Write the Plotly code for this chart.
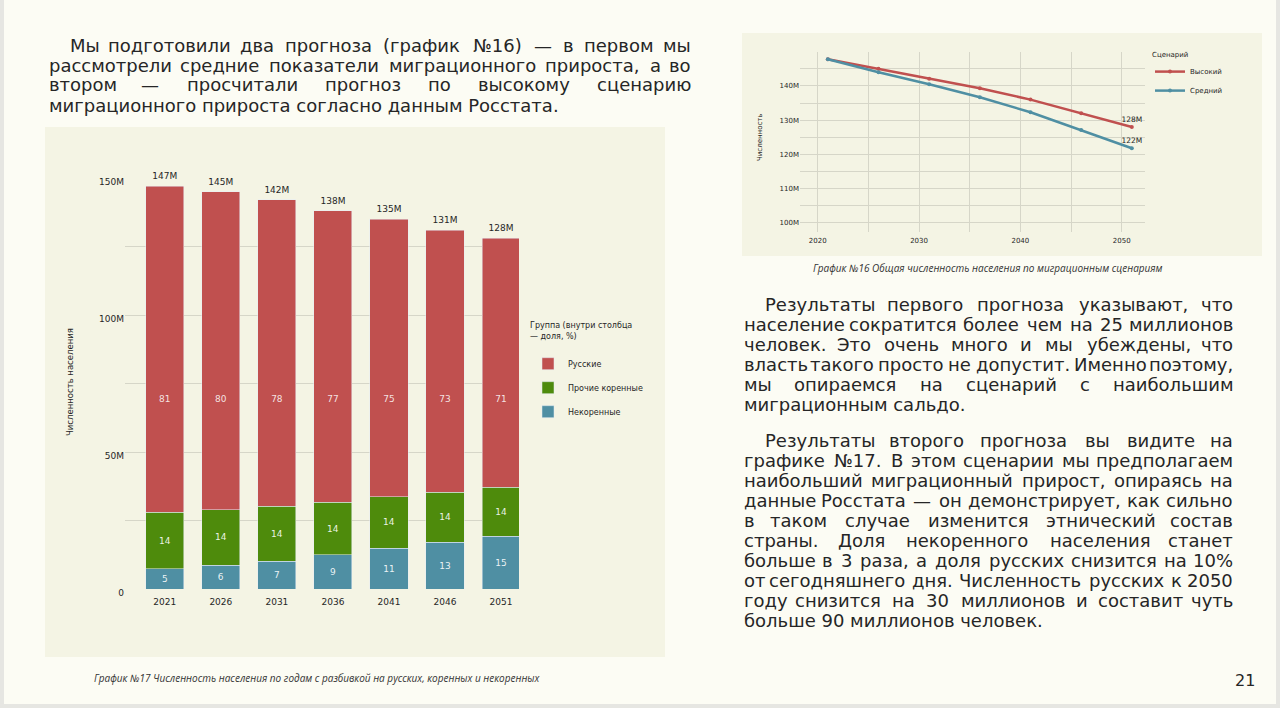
import plotly.graph_objects as go

W, H = 1280, 708

# --- data: chart 17 (bars) ---
years = ['2021', '2026', '2031', '2036', '2041', '2046', '2051']
totals = [147, 145, 142, 138, 135, 131, 128]
share_rus = [81, 80, 78, 77, 75, 73, 71]
share_kor = [14, 14, 14, 14, 14, 14, 14]
share_nekor = [5, 6, 7, 9, 11, 13, 15]

# --- data: chart 16 (lines) ---
scen_years = [2021, 2026, 2031, 2036, 2041, 2046, 2051]
scen_high = [147.8, 145.0, 142.1, 139.3, 136.0, 132.0, 128.0]
scen_mid = [147.8, 144.0, 140.5, 136.7, 132.3, 127.1, 121.8]

# --- page text ---
par1 = [
    "Мы подготовили два прогноза (график №16) — в первом мы",
    "рассмотрели средние показатели миграционного прироста, а во",
    "втором — просчитали прогноз по высокому сценарию",
    "миграционного прироста согласно данным Росстата.",
]
par2 = [
    "Результаты первого прогноза указывают, что",
    "население сократится более чем на 25 миллионов",
    "человек. Это очень много и мы убеждены, что",
    "власть такого просто не допустит. Именно поэтому,",
    "мы опираемся на сценарий с наибольшим",
    "миграционным сальдо.",
]
par3 = [
    "Результаты второго прогноза вы видите на",
    "графике №17. В этом сценарии мы предполагаем",
    "наибольший миграционный прирост, опираясь на",
    "данные Росстата — он демонстрирует, как сильно",
    "в таком случае изменится этнический состав",
    "страны. Доля некоренного населения станет",
    "больше в 3 раза, а доля русских снизится на 10%",
    "от сегодняшнего дня. Численность русских к 2050",
    "году снизится на 30 миллионов и составит чуть",
    "больше 90 миллионов человек.",
]

RED = '#c0504f'
GREEN = '#4e8b0c'
BLUE = '#4f8fa3'
PAGE_BG = '#fcfcf4'
PANEL_BG = '#f4f4e4'
GRID = '#d6d6c8'
TXT = '#262626'
BODY_FONT = 'DejaVu Sans'
BODY_SIZE = 18


def px(x):
    return x / W


def py(y):
    return 1 - y / H


def seg(total, shares, part):
    return [t * p / (a + b + c) for t, p, a, b, c in zip(total, part, *shares)]


shares = (share_rus, share_kor, share_nekor)
rus = seg(totals, shares, share_rus)
kor = seg(totals, shares, share_kor)
nekor = seg(totals, shares, share_nekor)

fig = go.Figure()

# stacked bars, bottom first
fig.add_trace(go.Bar(
    x=years, y=nekor, name='Некоренные', marker_color=BLUE, width=0.68,
    text=share_nekor, textposition='inside', insidetextanchor='middle',
    textangle=0, constraintext='none',
    textfont=dict(size=9, color='rgba(255,255,255,0.9)', family=BODY_FONT),
    legendgroup='nekor', legendrank=3, hoverinfo='skip'
))
fig.add_trace(go.Bar(
    x=years, y=kor, name='Прочие коренные', marker_color=GREEN, width=0.68,
    text=share_kor, textposition='inside', insidetextanchor='middle',
    textangle=0, constraintext='none',
    textfont=dict(size=9, color='rgba(255,255,255,0.9)', family=BODY_FONT),
    legendgroup='kor', legendrank=2, hoverinfo='skip'
))
fig.add_trace(go.Bar(
    x=years, y=rus, name='Русские', marker_color=RED, width=0.68,
    legendgroup='rus', legendrank=1, hoverinfo='skip'
))
# share labels of the red part sit on a common level
RUS_LABEL_LEVEL = 69
fig.add_trace(go.Scatter(
    x=years, y=[RUS_LABEL_LEVEL] * len(years), mode='text', text=share_rus,
    textfont=dict(size=9, color='rgba(255,255,255,0.85)', family=BODY_FONT),
    showlegend=False, hoverinfo='skip'
))
# totals above bars (invisible markers lift the labels a little)
fig.add_trace(go.Scatter(
    x=years, y=totals, mode='markers+text', text=[f'{t}M' for t in totals],
    textposition='top center', cliponaxis=False,
    marker=dict(size=6, color='rgba(0,0,0,0)'),
    textfont=dict(size=9, color=TXT, family=BODY_FONT),
    showlegend=False, hoverinfo='skip'
))

# scenario lines
for name, vals, color in [('Высокий', scen_high, RED), ('Средний', scen_mid, BLUE)]:
    labels = [''] * (len(vals) - 1) + [f'{round(vals[-1])}M']
    fig.add_trace(go.Scatter(
        x=scen_years, y=vals, name=name, mode='lines+markers+text',
        text=labels, textposition='top center', cliponaxis=False,
        textfont=dict(size=7.5, color=TXT, family=BODY_FONT),
        line=dict(color=color, width=2.5), marker=dict(color=color, size=4),
        xaxis='x2', yaxis='y2', legend='legend2'
    ))

# --- text helpers ---
CW = {
    ' ': .318, '.': .318, ',': .318, '(': .39, ')': .39, '—': 1.0, '№': 1.2, '%': .95,
    'а': .613, 'б': .617, 'в': .59, 'г': .48, 'д': .67, 'е': .615, 'ж': .9, 'з': .53,
    'и': .652, 'й': .652, 'к': .6, 'л': .652, 'м': .755, 'н': .652, 'о': .612,
    'п': .652, 'р': .635, 'с': .55, 'т': .51, 'у': .592, 'ф': .99, 'х': .592,
    'ц': .67, 'ч': .61, 'ш': .93, 'щ': .95, 'ъ': .72, 'ы': .83, 'ь': .6, 'э': .55,
    'ю': .88, 'я': .62,
    'М': .86, 'Р': .60, 'Э': .70, 'Д': .74, 'Ч': .70, 'И': .75, 'В': .69,
}


def tw(s, size):
    w = 0
    for ch in s:
        if ch in CW:
            w += CW[ch]
        elif ch.isdigit():
            w += .636
        elif ch.isupper():
            w += .74
        else:
            w += .6
    return w * size


annotations = []


def put(text, x, y, anchor='left', size=BODY_SIZE):
    annotations.append(dict(
        text=text, x=px(x), y=py(y), xref='paper', yref='paper',
        xanchor=anchor, yanchor='middle', showarrow=False,
        font=dict(family=BODY_FONT, size=size, color=TXT)
    ))


def paragraph(lines, x0, x1, y0, indent=21, step=20):
    for i, line in enumerate(lines):
        left = x0 + (indent if i == 0 else 0)
        y = y0 + i * step
        words = line.split(' ')
        if i == len(lines) - 1 or len(words) < 2:
            put(line, left, y)
            continue
        widths = [tw(w, BODY_SIZE) for w in words]
        gap = (x1 - left - sum(widths)) / (len(words) - 1)
        pos = left
        for j, w in enumerate(words):
            if j == 0:
                put(w, left, y, 'left')
            elif j == len(words) - 1:
                put(w, x1, y, 'right')
            else:
                put(w, pos + widths[j] / 2, y, 'center')
            pos += widths[j] + gap


paragraph(par1, 47, 693, 45)
paragraph(par2, 742, 1235, 304)
paragraph(par3, 742, 1235, 440)


def note(text, x, y, size, family=BODY_FONT, anchor='center', angle=0, color=TXT):
    annotations.append(dict(
        text=text, x=px(x), y=py(y), xref='paper', yref='paper',
        xanchor=anchor, yanchor='middle', textangle=angle, showarrow=False,
        font=dict(family=family, size=size, color=color)
    ))


# axis titles
note('Численность населения', 70, 382, 8.5, angle=-90)
note('Численность', 760, 138, 7, angle=-90)
# captions
note('<i>График №16 Общая численность населения по миграционным сценариям</i>',
     988, 268, 10, family='Open Sans', color='#333333')
note('<i>График №17 Численность населения по годам с разбивкой на русских, коренных и некоренных</i>',
     92, 678, 10, family='Open Sans', anchor='left', color='#333333')
note('21', 1245, 680, 16)

shapes = [
    dict(type='rect', xref='paper', yref='paper', x0=px(4), x1=px(1276), y0=py(704), y1=py(0),
         fillcolor=PAGE_BG, line=dict(width=0), layer='below'),
    dict(type='rect', xref='paper', yref='paper', x0=px(45), x1=px(665), y0=py(657), y1=py(127),
         fillcolor=PANEL_BG, line=dict(width=0), layer='below'),
    dict(type='rect', xref='paper', yref='paper', x0=px(742), x1=px(1262), y0=py(256), y1=py(33),
         fillcolor=PANEL_BG, line=dict(width=0), layer='below'),
]

tick_font = dict(family=BODY_FONT, size=9, color=TXT)
small_tick = dict(family=BODY_FONT, size=7, color=TXT)

fig.update_layout(
    width=W, height=H, margin=dict(l=0, r=0, t=0, b=0, autoexpand=False),
    paper_bgcolor='#e6e6e2', plot_bgcolor='rgba(0,0,0,0)',
    barmode='stack', bargap=0.3,
    shapes=shapes, annotations=annotations,
    xaxis=dict(
        domain=[px(125), px(519)], anchor='y', type='category',
        range=[-0.71, 6.32], showgrid=False, ticks='', tickfont=tick_font,
        ticklabelstandoff=6, automargin=False, fixedrange=True
    ),
    yaxis=dict(
        domain=[py(589), py(178)], anchor='x', range=[0, 150],
        tickvals=[0, 50, 100, 150], ticktext=['0', '50M', '100M', '150M'],
        tickfont=tick_font, gridcolor=GRID, gridwidth=1, zeroline=False,
        ticklabelshift=4, ticklabelstandoff=0, automargin=False,
        minor=dict(tickvals=[25, 75, 125], showgrid=True, gridcolor=GRID),
        fixedrange=True
    ),
    xaxis2=dict(
        domain=[px(800), px(1145)], anchor='y2', range=[2018.25, 2052.3],
        tickvals=[2020, 2030, 2040, 2050], tickfont=small_tick,
        gridcolor=GRID, zeroline=False, ticklabelstandoff=3, automargin=False,
        minor=dict(tickvals=[2025, 2035, 2045], showgrid=True, gridcolor=GRID),
        fixedrange=True
    ),
    yaxis2=dict(
        domain=[py(231.7), py(51.7)], anchor='x2', range=[97.4, 150],
        tickvals=[100, 110, 120, 130, 140],
        ticktext=['100M', '110M', '120M', '130M', '140M'],
        tickfont=small_tick, gridcolor=GRID, zeroline=False, automargin=False,
        minor=dict(tickvals=[105, 115, 125, 135, 145], showgrid=True, gridcolor=GRID),
        fixedrange=True
    ),
    legend=dict(
        x=px(528), y=py(318), xanchor='left', yanchor='top',
        bgcolor='rgba(0,0,0,0)', font=dict(family=BODY_FONT, size=8, color=TXT),
        title=dict(text='Группа (внутри столбца<br>— доля, %)<br> ',
                   font=dict(family=BODY_FONT, size=8, color=TXT)),
        traceorder='grouped', tracegroupgap=5, itemwidth=30
    ),
    legend2=dict(
        x=px(1150), y=py(48), xanchor='left', yanchor='top',
        bgcolor='rgba(0,0,0,0)', font=dict(family=BODY_FONT, size=7, color=TXT),
        title=dict(text='Сценарий', font=dict(family=BODY_FONT, size=7, color=TXT)),
        itemwidth=30
    ),
    hovermode=False,
)

fig.write_html(
    "out.html",
    config={'displayModeBar': False},
    post_script=(
        "document.documentElement.style.margin='0';"
        "document.body.style.margin='0';"
        "document.documentElement.style.overflow='hidden';"
        "document.body.style.overflow='hidden';"
        "document.body.style.height='708px';"
    ),
)
